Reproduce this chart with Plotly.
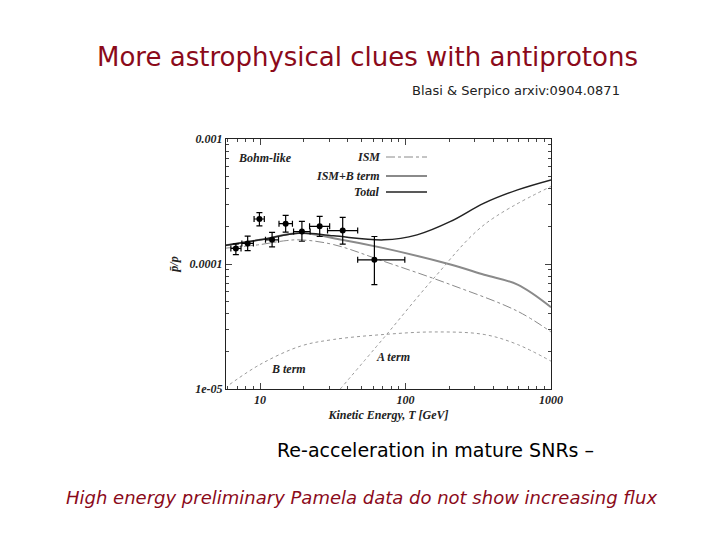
import plotly.graph_objects as go

T_total = [5.83, 10, 18.9, 32.0, 71, 120, 204, 347, 589, 1000]
Y_total = [1.41e-4, 1.56e-4, 1.77e-4, 1.68e-4, 1.56e-4, 1.71e-4, 2.19e-4, 3.07e-4, 3.92e-4, 4.71e-4]
T_ismb = [5.83, 10, 18.9, 32.0, 71, 204, 347, 589, 1000]
Y_ismb = [1.41e-4, 1.56e-4, 1.77e-4, 1.61e-4, 1.34e-4, 9.9e-5, 8.2e-5, 6.84e-5, 4.51e-5]
T_ism = [5.83, 10, 14.5, 18.9, 32.0, 71, 204, 589, 1000]
Y_ism = [1.34e-4, 1.43e-4, 1.53e-4, 1.56e-4, 1.43e-4, 1.05e-4, 6.84e-5, 4.19e-5, 2.86e-5]
T_b = [6.2, 10, 18.9, 32.0, 71, 157, 347, 589, 1000]
Y_b = [1.09e-5, 1.57e-5, 2.20e-5, 2.49e-5, 2.73e-5, 2.86e-5, 2.73e-5, 2.27e-5, 1.67e-5]
T_a = [35.6, 71, 157, 347, 1000]
Y_a = [1.0e-5, 2.57e-5, 7.73e-5, 2.06e-4, 4.17e-4]

data_T = [6.82, 8.22, 9.9, 12.1, 15.0, 19.4, 25.7, 37.0, 61.1]
data_Tlo = [6.3, 7.5, 9.1, 10.9, 13.5, 17.0, 21.9, 29.1, 46.9]
data_Thi = [7.4, 9.0, 10.7, 13.4, 16.7, 22.1, 30.1, 46.9, 98.9]
data_Y = [1.33e-4, 1.46e-4, 2.29e-4, 1.56e-4, 2.10e-4, 1.82e-4, 2.00e-4, 1.85e-4, 1.08e-4]
data_Ylo = [1.19e-4, 1.28e-4, 2.02e-4, 1.37e-4, 1.80e-4, 1.52e-4, 1.66e-4, 1.44e-4, 6.84e-5]
data_Yhi = [1.45e-4, 1.67e-4, 2.58e-4, 1.79e-4, 2.45e-4, 2.19e-4, 2.40e-4, 2.36e-4, 1.66e-4]

SERIF = "Liberation Serif"
L, R, TOP, BOT = 226, 551, 139, 389
def px(x): return (x - L) / (R - L)
def py(y): return (BOT - y) / (BOT - TOP)

fig = go.Figure()
fig.add_trace(go.Scatter(x=T_ism, y=Y_ism, mode="lines", line=dict(color="#8a8a8a", width=1, dash="dashdot", shape="spline")))
fig.add_trace(go.Scatter(x=T_ismb, y=Y_ismb, mode="lines", line=dict(color="#8a8a8a", width=2, shape="spline")))
fig.add_trace(go.Scatter(x=T_total, y=Y_total, mode="lines", line=dict(color="#222", width=1.5, shape="spline")))
fig.add_trace(go.Scatter(x=T_b, y=Y_b, mode="lines", line=dict(color="#999", width=1, dash="dot", shape="spline")))
fig.add_trace(go.Scatter(x=T_a, y=Y_a, mode="lines", line=dict(color="#999", width=1, dash="dot", shape="spline")))
fig.add_trace(go.Scatter(
    x=data_T, y=data_Y, mode="markers", marker=dict(color="black", size=6),
    error_y=dict(type="data", symmetric=False, array=[h - y for h, y in zip(data_Yhi, data_Y)],
                 arrayminus=[y - l for l, y in zip(data_Ylo, data_Y)], color="black", thickness=1.2, width=3),
    error_x=dict(type="data", symmetric=False, array=[h - x for h, x in zip(data_Thi, data_T)],
                 arrayminus=[x - l for l, x in zip(data_Tlo, data_T)], color="black", thickness=1.2, width=3)))

tf = dict(family=SERIF, size=12, color="#222")
fig.update_xaxes(type="log", range=[0.766, 3], showgrid=False, showline=True, linecolor="#222", mirror="ticks",
                 ticks="inside", ticklen=6, tickvals=[10, 100, 1000], ticktext=["<b><i>10</i></b>", "<b><i>100</i></b>", "<b><i>1000</i></b>"],
                 tickfont=tf, minor=dict(ticks="inside", ticklen=3, tickvals=[6,7,8,9,20,30,40,50,60,70,80,90,200,300,400,500,600,700,800,900]),
                 zeroline=False, automargin=False,
                 title=dict(text="<b><i>Kinetic Energy, T [GeV]</i></b>", font=tf, standoff=4))
fig.update_yaxes(type="log", range=[-5, -3], showgrid=False, showline=True, linecolor="#222", mirror="ticks",
                 ticks="inside", ticklen=6, tickvals=[1e-5, 1e-4, 1e-3], ticktext=["<b><i>1e-05</i></b>", "<b><i>0.0001</i></b>", "<b><i>0.001</i></b>"],
                 tickfont=tf, minor=dict(ticks="inside", ticklen=3, tickvals=[2e-5,3e-5,4e-5,5e-5,6e-5,7e-5,8e-5,9e-5,2e-4,3e-4,4e-4,5e-4,6e-4,7e-4,8e-4,9e-4]),
                 zeroline=False, automargin=False,
                 title=dict(text="<b><i>p̄/p</i></b>", font=tf, standoff=8))

ann = [
    dict(x=px(367), y=py(57), text="More astrophysical clues with antiprotons",
         font=dict(family="DejaVu Sans", size=26, color="#8b0a1a"), xanchor="center"),
    dict(x=px(622), y=py(90), text="Blasi &amp; Serpico arxiv:0904.0871",
         font=dict(family="DejaVu Sans", size=13, color="#222"), xanchor="right"),
    dict(x=px(435), y=py(450), text="Re-acceleration in mature SNRs –",
         font=dict(family="DejaVu Sans", size=19, color="black"), xanchor="center"),
    dict(x=px(361), y=py(497), text="<i>High energy preliminary Pamela data do not show increasing flux</i>",
         font=dict(family="DejaVu Sans", size=18, color="#8b0a1a"), xanchor="center"),
]
for txt, x, y, anchor in [("Bohm-like", 236, 158, "left"), ("ISM", 382, 157, "right"), ("ISM+B term", 382, 176, "right"),
                          ("Total", 382, 192, "right"), ("B term", 269, 369, "left"), ("A term", 374, 357, "left")]:
    ann.append(dict(x=px(x), y=py(y), text=f"<b><i>{txt}</i></b>",
                    xanchor=anchor, font=dict(family=SERIF, size=12, color="#222")))
for a in ann:
    a.update(xref="paper", yref="paper", showarrow=False, yanchor="middle")
fig.update_layout(annotations=ann)
for y, col, w, d in [(157, "#8a8a8a", 1, "dashdot"), (176, "#8a8a8a", 2, "solid"), (192, "#222", 1.5, "solid")]:
    fig.add_shape(type="line", xref="paper", yref="paper", x0=px(386), x1=px(427), y0=py(y), y1=py(y),
                  line=dict(color=col, width=w, dash=d))

fig.update_layout(width=720, height=540, showlegend=False, plot_bgcolor="white", paper_bgcolor="white",
                  margin=dict(l=L, r=720 - R, t=TOP, b=540 - BOT, autoexpand=False))
fig.write_html("out.html", config={"displayModeBar": False},
               post_script="document.body.style.margin='0';document.body.style.padding='0';")
